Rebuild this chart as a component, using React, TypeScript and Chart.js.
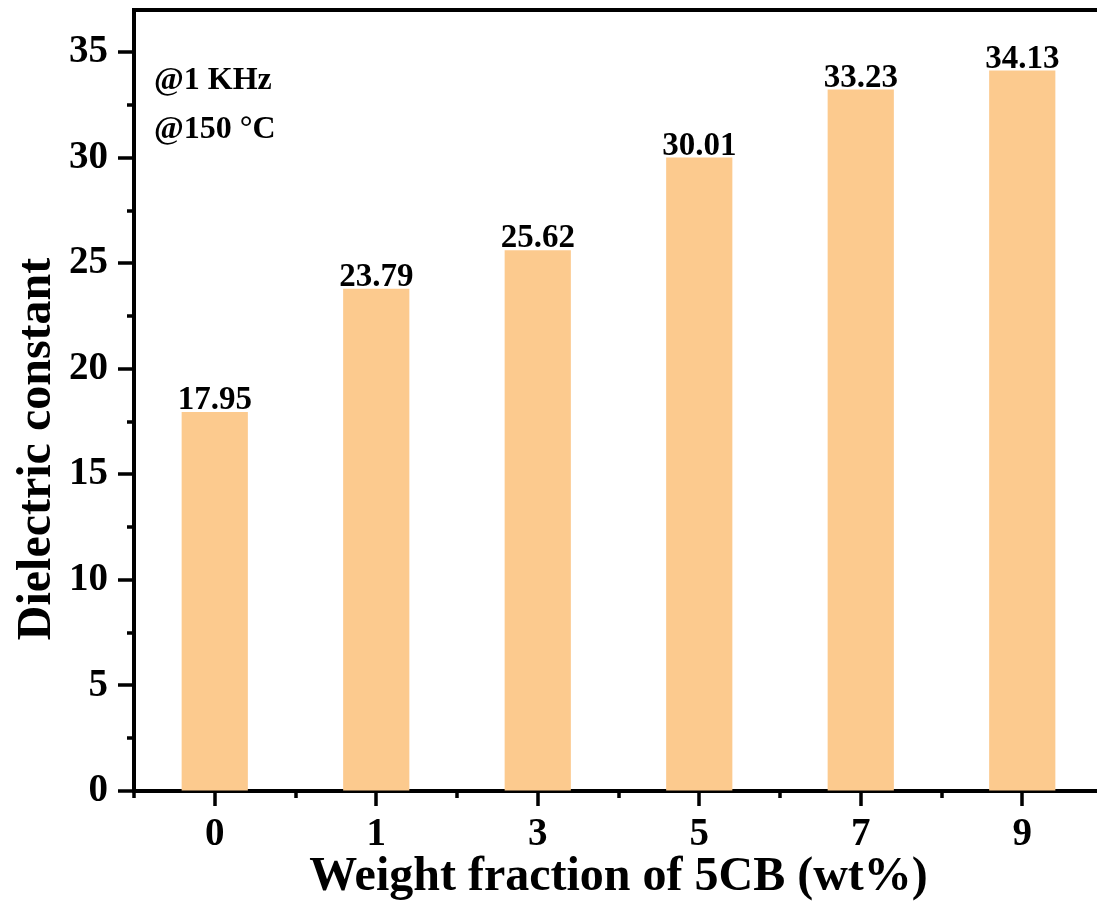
import React, { useEffect, useRef } from "react";
import { Chart, registerables } from "chart.js";

Chart.register(...registerables);

const categories: string[] = ["0", "1", "3", "5", "7", "9"];
const dielectricValues: number[] = [17.95, 23.79, 25.62, 30.01, 33.23, 34.13];
const valueLabels: string[] = ["17.95", "23.79", "25.62", "30.01", "33.23", "34.13"];
const annotations: string[] = ["@1 KHz", "@150 °C"];
const xTitle = "Weight fraction of 5CB (wt%)";
const yTitle = "Dielectric constant";

const FONT = '"Liberation Serif", "Times New Roman", Times, serif';
const BAR_COLOR = "rgb(252, 202, 142)";

const decorPlugin = {
  id: "decor",
  afterDraw(chart: any) {
    const { ctx, chartArea, scales } = chart;
    const { left, top, right, bottom } = chartArea;
    const x = scales.x;
    const y = scales.y;
    ctx.save();
    ctx.strokeStyle = "#000";
    ctx.lineCap = "butt";
    // top frame
    ctx.lineWidth = 4;
    ctx.beginPath();
    ctx.moveTo(left - 2, top);
    ctx.lineTo(right + 2, top);
    ctx.stroke();
    // y ticks (major every 5, minor every 2.5)
    ctx.lineWidth = 3.5;
    ctx.beginPath();
    for (let i = 0; i <= 14; i++) {
      const v = i * 2.5;
      const py = Math.round(y.getPixelForValue(v));
      const major = i % 2 === 0;
      ctx.moveTo(left - 2, py);
      ctx.lineTo(left - (major ? 16 : 7), py);
    }
    ctx.stroke();
    // x ticks: major at category centres, minor at boundaries
    ctx.beginPath();
    const n = categories.length;
    for (let i = 0; i < n; i++) {
      const px = Math.round(x.getPixelForValue(i));
      ctx.moveTo(px, bottom + 2);
      ctx.lineTo(px, bottom + 15);
    }
    for (let i = 0; i <= n; i++) {
      const px = Math.round(x.getPixelForValue(i - 0.5));
      ctx.moveTo(px, bottom + 2);
      ctx.lineTo(px, bottom + 7);
    }
    ctx.stroke();
    // value labels above bars
    const meta = chart.getDatasetMeta(0);
    ctx.fillStyle = "#000";
    ctx.font = `bold 33px ${FONT}`;
    ctx.textAlign = "center";
    ctx.textBaseline = "alphabetic";
    meta.data.forEach((bar: any, i: number) => {
      ctx.fillText(valueLabels[i], bar.x, bar.y - 3);
    });
    // annotations
    ctx.font = `bold 32px ${FONT}`;
    ctx.textAlign = "left";
    ctx.fillText(annotations[0], left + 20, top + 79);
    ctx.fillText(annotations[1], left + 20, top + 128);
    // y-axis title (placed lower than the plot centre, as in the original)
    ctx.save();
    ctx.font = `bold 48px ${FONT}`;
    ctx.textAlign = "center";
    ctx.textBaseline = "middle";
    ctx.translate(38, 449);
    ctx.rotate(-Math.PI / 2);
    ctx.fillText(yTitle, 0, 0);
    ctx.restore();
    ctx.restore();
  },
};

export default function App() {
  const canvasRef = useRef<HTMLCanvasElement | null>(null);

  useEffect(() => {
    const canvas = canvasRef.current;
    if (!canvas) return;
    const tickFont = { family: FONT, size: 39, weight: "bold" as const };
    const titleFont = { family: FONT, size: 48, weight: "bold" as const };
    const chart = new Chart(canvas, {
      type: "bar",
      data: {
        labels: categories,
        datasets: [
          {
            data: dielectricValues,
            backgroundColor: BAR_COLOR,
            borderWidth: 0,
            barPercentage: 0.41,
            categoryPercentage: 1,
          },
        ],
      },
      options: {
        responsive: false,
        animation: false,
        devicePixelRatio: 1,
        layout: { padding: { top: 10, right: 7, left: 0, bottom: 0 } },
        plugins: {
          legend: { display: false },
          tooltip: { enabled: false },
        },
        scales: {
          x: {
            type: "category",
            offset: true,
            grid: {
              display: true,
              drawOnChartArea: false,
              drawTicks: true,
              tickLength: 14,
              color: "transparent",
              tickColor: "transparent",
            },
            border: { display: true, color: "#000", width: 4 },
            ticks: {
              color: "#000",
              font: tickFont,
              padding: 7,
              maxRotation: 0,
              autoSkip: false,
            },
            title: {
              display: true,
              text: xTitle,
              color: "#000",
              font: titleFont,
              padding: { top: 0, bottom: 0 },
            },
            afterFit(scale: any) {
              scale.height = 115;
              scale.paddingLeft = 0;
              scale.paddingRight = 0;
            },
          },
          y: {
            min: 0,
            max: 37,
            grid: {
              display: true,
              drawOnChartArea: false,
              drawTicks: true,
              tickLength: 14,
              color: "transparent",
              tickColor: "transparent",
            },
            border: { display: true, color: "#000", width: 4 },
            ticks: {
              stepSize: 5,
              includeBounds: false,
              color: "#000",
              font: tickFont,
              padding: 12,
              autoSkip: false,
            },
            afterBuildTicks(scale: any) {
              scale.ticks = scale.ticks.filter((t: any) => t.value % 5 === 0);
            },
            title: { display: false },
            afterFit(scale: any) {
              scale.width = 134;
              scale.paddingTop = 0;
              scale.paddingBottom = 0;
            },
          },
        },
      },
      plugins: [decorPlugin],
    });
    return () => chart.destroy();
  }, []);

  return (
    <div
      style={{
        position: "fixed",
        left: 0,
        top: 0,
        width: 1097,
        height: 906,
        overflow: "hidden",
        background: "#fff",
      }}
    >
      <canvas ref={canvasRef} width={1110} height={906} style={{ display: "block" }} />
    </div>
  );
}
